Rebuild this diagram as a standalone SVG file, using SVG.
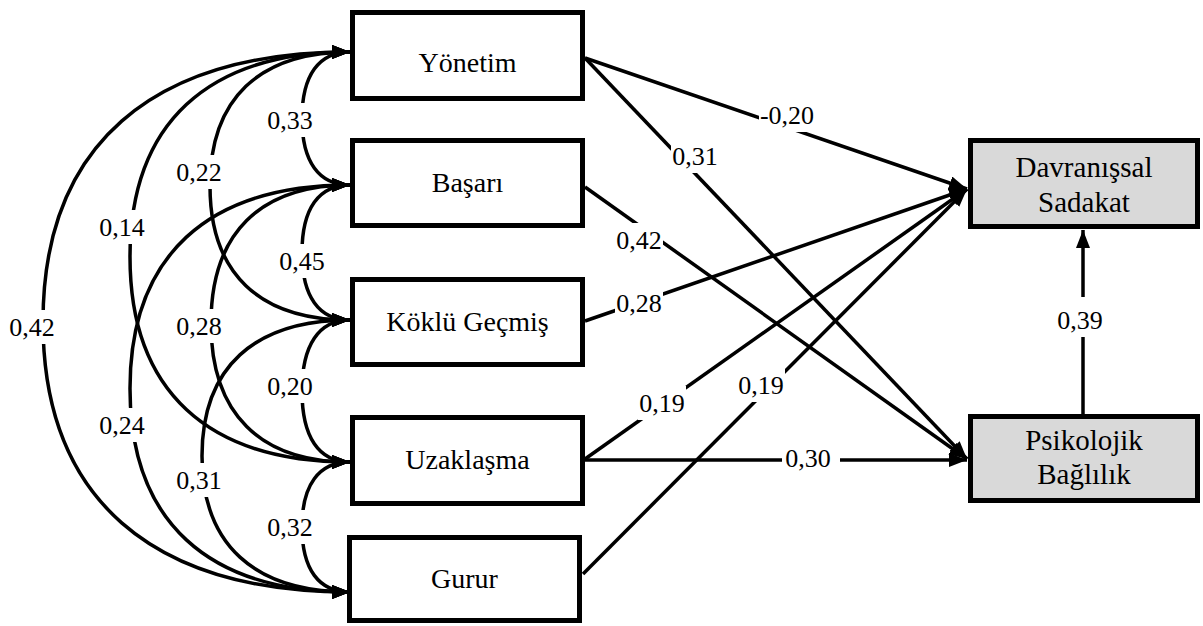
<svg xmlns="http://www.w3.org/2000/svg" width="1203" height="626" viewBox="0 0 1203 626">
  <style>
    .box { fill: #ffffff; stroke: #000000; stroke-width: 5; }
    .dep { fill: #d9d9d9; stroke: #000000; stroke-width: 5; }
    .name { font-size: 28px; fill: #000000; text-anchor: middle; }
    .dname { font-size: 29px; fill: #000000; text-anchor: middle; }
    .edge { fill: none; stroke: #000000; stroke-width: 3.5; }
    .cov { fill: none; stroke: #000000; stroke-width: 3.5; marker-start: url(#head); marker-end: url(#head); }
    .path { marker-end: url(#head); }
    .lab { font-size: 26px; fill: #000000; text-anchor: middle; }
    .gap { fill: #ffffff; stroke: none; }
  </style>
  <defs>
    <marker id="head" markerUnits="userSpaceOnUse" markerWidth="20" markerHeight="16" refX="18" refY="7" orient="auto-start-reverse">
      <path d="M0,0 L18,7 L0,14 z" fill="#000000"/>
    </marker>
  </defs>

  <g font-family="'Liberation Serif', 'Times New Roman', 'DejaVu Serif', serif">
  <!-- connectors: covariances on the left, paths on the right -->
  <g id="connectors">
    <!-- covariance arcs -->
    <path class="cov" d="M350,52 C318.8,52 302,75.3 302,118.5 C302,161.7 318.8,185 350,185"/>
    <path class="cov" d="M350,52 C259,52 210,98.9 210,186 C210,273.1 259,320 350,320"/>
    <path class="cov" d="M350,52 C207,52 130,123.8 130,257 C130,390.3 207,462 350,462"/>
    <path class="cov" d="M350,52 C150.5,52 43,146.5 43,322 C43,497.5 150.5,592 350,592"/>
    <path class="cov" d="M350,185 C318.8,185 302,208.6 302,252.5 C302,296.4 318.8,320 350,320"/>
    <path class="cov" d="M350,185 C259.7,185 211,233.5 211,323.5 C211,413.5 259.7,462 350,462"/>
    <path class="cov" d="M350,185 C207,185 130,256.2 130,388.5 C130,520.8 207,592 350,592"/>
    <path class="cov" d="M350,320 C318.8,320 302,344.9 302,391 C302,437.1 318.8,462 350,462"/>
    <path class="cov" d="M350,320 C253.8,320 202,367.6 202,456 C202,544.4 253.8,592 350,592"/>
    <path class="cov" d="M350,462 C318.8,462 302,484.8 302,527 C302,569.3 318.8,592 350,592"/>

    <!-- structural paths -->
    <path class="edge path" d="M585,58 L967,189"/>
    <path class="edge path" d="M585,58 L967,459"/>
    <path class="edge path" d="M585,187 L967,459"/>
    <path class="edge path" d="M585,321 L967,189"/>
    <path class="edge path" d="M585,459 L967,189"/>
    <path class="edge path" d="M585,460 L967,460"/>
    <path class="edge path" d="M583,574 L967,189"/>
    <path class="edge path" d="M1083,414 L1083,230"/>

    <!-- coefficient labels -->
    <g id="labels">
      <rect class="gap" x="266" y="103" width="48" height="34"/><text class="lab" x="290" y="128.5">0,33</text>
      <rect class="gap" x="175" y="155" width="48" height="34"/><text class="lab" x="199" y="180.5">0,22</text>
      <rect class="gap" x="98" y="210" width="48" height="34"/><text class="lab" x="122" y="235.5">0,14</text>
      <rect class="gap" x="8" y="310" width="48" height="34"/><text class="lab" x="32" y="335.5">0,42</text>
      <rect class="gap" x="278" y="244" width="48" height="34"/><text class="lab" x="302" y="269.5">0,45</text>
      <rect class="gap" x="175" y="309" width="48" height="34"/><text class="lab" x="199" y="334.5">0,28</text>
      <rect class="gap" x="98" y="408" width="48" height="34"/><text class="lab" x="122" y="433.5">0,24</text>
      <rect class="gap" x="266" y="369" width="48" height="34"/><text class="lab" x="290" y="394.5">0,20</text>
      <rect class="gap" x="175" y="463" width="48" height="34"/><text class="lab" x="199" y="488.5">0,31</text>
      <rect class="gap" x="266" y="510" width="48" height="34"/><text class="lab" x="290" y="535.5">0,32</text>

      <rect class="gap" x="759" y="98" width="56" height="34"/><text class="lab" x="787" y="123.5">-0,20</text>
      <rect class="gap" x="671" y="139" width="48" height="34"/><text class="lab" x="695" y="164.5">0,31</text>
      <rect class="gap" x="615" y="223" width="48" height="34"/><text class="lab" x="639" y="248.5">0,42</text>
      <rect class="gap" x="615" y="286" width="48" height="34"/><text class="lab" x="639" y="311.5">0,28</text>
      <rect class="gap" x="638" y="386" width="48" height="34"/><text class="lab" x="662" y="411.5">0,19</text>
      <rect class="gap" x="737" y="368" width="48" height="34"/><text class="lab" x="761" y="393.5">0,19</text>
      <rect class="gap" x="782" y="441" width="58" height="34"/><text class="lab" x="808" y="466.5">0,30</text>
      <rect class="gap" x="1056" y="297" width="48" height="40"/><text class="lab" x="1080" y="328.5">0,39</text>
    </g>
  </g>

  <!-- exogenous factors -->
  <g id="yonetim">
    <rect class="box" x="352.5" y="12.5" width="230" height="86"/>
    <text class="name" x="467.5" y="72">Yönetim</text>
  </g>
  <g id="basari">
    <rect class="box" x="352.5" y="140.5" width="230" height="85"/>
    <text class="name" x="467.5" y="192">Başarı</text>
  </g>
  <g id="koklu-gecmis">
    <rect class="box" x="352.5" y="279.5" width="230" height="85"/>
    <text class="name" x="467.5" y="331">Köklü Geçmiş</text>
  </g>
  <g id="uzaklasma">
    <rect class="box" x="352.5" y="417.5" width="230" height="86"/>
    <text class="name" x="467.5" y="469">Uzaklaşma</text>
  </g>
  <g id="gurur">
    <rect class="box" x="349.5" y="537.5" width="230" height="83"/>
    <text class="name" x="464.5" y="588">Gurur</text>
  </g>

  <!-- outcome factors -->
  <g id="davranissal-sadakat">
    <rect class="dep" x="970.5" y="140.5" width="227" height="86"/>
    <text class="dname" x="1084" y="177">Davranışsal</text>
    <text class="dname" x="1084" y="212">Sadakat</text>
  </g>
  <g id="psikolojik-baglilik">
    <rect class="dep" x="970.5" y="416.5" width="227" height="84"/>
    <text class="dname" x="1084" y="450">Psikolojik</text>
    <text class="dname" x="1084" y="484">Bağlılık</text>
  </g>
  </g>
</svg>
